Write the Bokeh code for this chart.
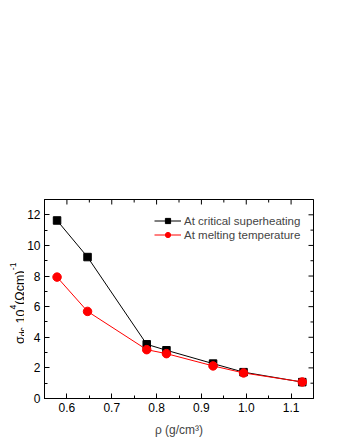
from bokeh.plotting import figure
from bokeh.layouts import row
from bokeh.models import FixedTicker, Label, Legend, LegendItem, Range1d
from bokeh.embed import file_html
from bokeh.resources import INLINE

# ---- data ----
rho_super = [0.578, 0.646, 0.778, 0.822, 0.926, 0.994, 1.125]
sigma_super = [11.63, 9.24, 3.54, 3.15, 2.28, 1.72, 1.07]
rho_melt = [0.578, 0.646, 0.778, 0.822, 0.926, 0.994, 1.125]
sigma_melt = [7.93, 5.69, 3.19, 2.93, 2.13, 1.67, 1.08]

x_ticks = [0.6, 0.7, 0.8, 0.9, 1.0, 1.1]
x_tick_labels = ["0.6", "0.7", "0.8", "0.9", "1.0", "1.1"]
x_minor = [0.55, 0.65, 0.75, 0.85, 0.95, 1.05, 1.15]
y_ticks = [0, 2, 4, 6, 8, 10, 12]
y_tick_labels = ["0", "2", "4", "6", "8", "10", "12"]
y_minor = [1, 3, 5, 7, 9, 11, 13]

series_names = ["At critical superheating", "At melting temperature"]
x_label = "ρ (g/cm³)"
# y label: sigma_dc 10^4 (Ohm cm)^-1, as (text, role) pieces
y_label_pieces = [("σ", "main"), ("dc", "sub"), ("10", "main"), ("4", "sup"),
                  ("(Ωcm)", "main"), ("-1", "sup")]

FONT = "Liberation Sans"
X0, X1, Y0, Y1 = 0.55, 1.15, 0.0, 13.0
H = 440
LW = 24  # width of the strip holding the y label
FRAME_TOP, FRAME_H = 199, 199

# ---------------- main plot ----------------
yr = Range1d(Y0, Y1)
p = figure(width=340 - LW, height=H, x_range=Range1d(X0, X1), y_range=yr,
           output_backend="svg", toolbar_location=None,
           min_border_left=19, min_border_right=27, min_border_top=FRAME_TOP,
           min_border_bottom=H - FRAME_TOP - FRAME_H)
p.xgrid.visible = False
p.ygrid.visible = False
p.outline_line_color = "black"
p.outline_line_width = 1
p.background_fill_color = "white"
p.border_fill_color = "white"

def style_axis(ax):
    ax.axis_line_color = "black"
    ax.major_tick_line_color = "black"
    ax.minor_tick_line_color = "black"
    ax.major_tick_in = 5
    ax.major_tick_out = 0
    ax.minor_tick_in = 3
    ax.minor_tick_out = 0
    ax.major_label_text_font = FONT
    ax.major_label_text_font_size = "12px"
    ax.major_label_text_color = "black"
    ax.major_label_standoff = 4

xax = p.xaxis[0]
xax.ticker = FixedTicker(ticks=x_ticks, minor_ticks=x_minor)
xax.major_label_overrides = {t: l for t, l in zip(x_ticks, x_tick_labels)}
style_axis(xax)
xax.axis_label = x_label
xax.axis_label_text_font = FONT
xax.axis_label_text_font_size = "12px"
xax.axis_label_text_font_style = "normal"
xax.axis_label_standoff = 8

yax = p.yaxis[0]
yax.ticker = FixedTicker(ticks=y_ticks, minor_ticks=y_minor)
yax.major_label_overrides = {t: l for t, l in zip(y_ticks, y_tick_labels)}
style_axis(yax)

# mirrored inward ticks on the top and right edges (half of each dash is clipped by the frame)
p.scatter(x_ticks, [Y1] * len(x_ticks), marker="dash", angle=1.5707963267948966, size=10,
          line_color="black", line_width=1)
p.scatter(x_minor, [Y1] * len(x_minor), marker="dash", angle=1.5707963267948966, size=6,
          line_color="black", line_width=1)
p.scatter([X1] * len(y_ticks), y_ticks, marker="dash", size=10, line_color="black", line_width=1)
p.scatter([X1] * len(y_minor), y_minor, marker="dash", size=6, line_color="black", line_width=1)

l1 = p.line(rho_super, sigma_super, line_color="black", line_width=1)
s1 = p.scatter(rho_super, sigma_super, marker="square", size=7.5, fill_color="black", line_color="black")
l2 = p.line(rho_melt, sigma_melt, line_color="red", line_width=1)
s2 = p.scatter(rho_melt, sigma_melt, marker="circle", size=8.5, fill_color="red", line_color="red")

legend = Legend(items=[LegendItem(label=series_names[0], renderers=[l1, s1]),
                       LegendItem(label=series_names[1], renderers=[l2, s2])],
                location=(110, 157), glyph_width=27, glyph_height=13, label_height=13,
                label_standoff=3, padding=0, spacing=1, margin=0,
                border_line_alpha=0, background_fill_alpha=0,
                label_text_font=FONT, label_text_font_size="11.5px")
p.add_layout(legend)

# ---------------- strip with the rotated y label ----------------
# its frame is aligned with the main frame by the row layout, so it shares the y range
lab = figure(width=LW, height=H, x_range=Range1d(0, LW), y_range=yr,
             x_axis_type=None, y_axis_type=None, output_backend="svg", toolbar_location=None,
             min_border_left=0, min_border_right=0, min_border_top=FRAME_TOP,
             min_border_bottom=H - FRAME_TOP - FRAME_H)
lab.outline_line_color = None
lab.background_fill_color = "white"
lab.border_fill_color = "white"

def dy(iy):
    """page pixel row -> y data value of the (shared) frame"""
    return Y0 + (FRAME_TOP + FRAME_H - iy) / FRAME_H * (Y1 - Y0)

sizes = {"main": "12.5px", "sub": "8.5px", "sup": "8.5px"}
baselines = {"main": 19.8, "sub": 22.6, "sup": 12.8}   # px from the left of the page
starts = [343.5, 335.8, 323.0, 309.0, 304.3, 269.7]    # px from the top of the page
for (txt, role), sy in zip(y_label_pieces, starts):
    lab.add_layout(Label(x=baselines[role], y=dy(sy), text=txt, angle=1.5707963267948966,
                         text_align="left", text_baseline="alphabetic",
                         text_font=FONT, text_font_size=sizes[role], text_color="black"))

layout = row(lab, p, spacing=0)
open("out.html", "w").write(file_html(layout, INLINE))
